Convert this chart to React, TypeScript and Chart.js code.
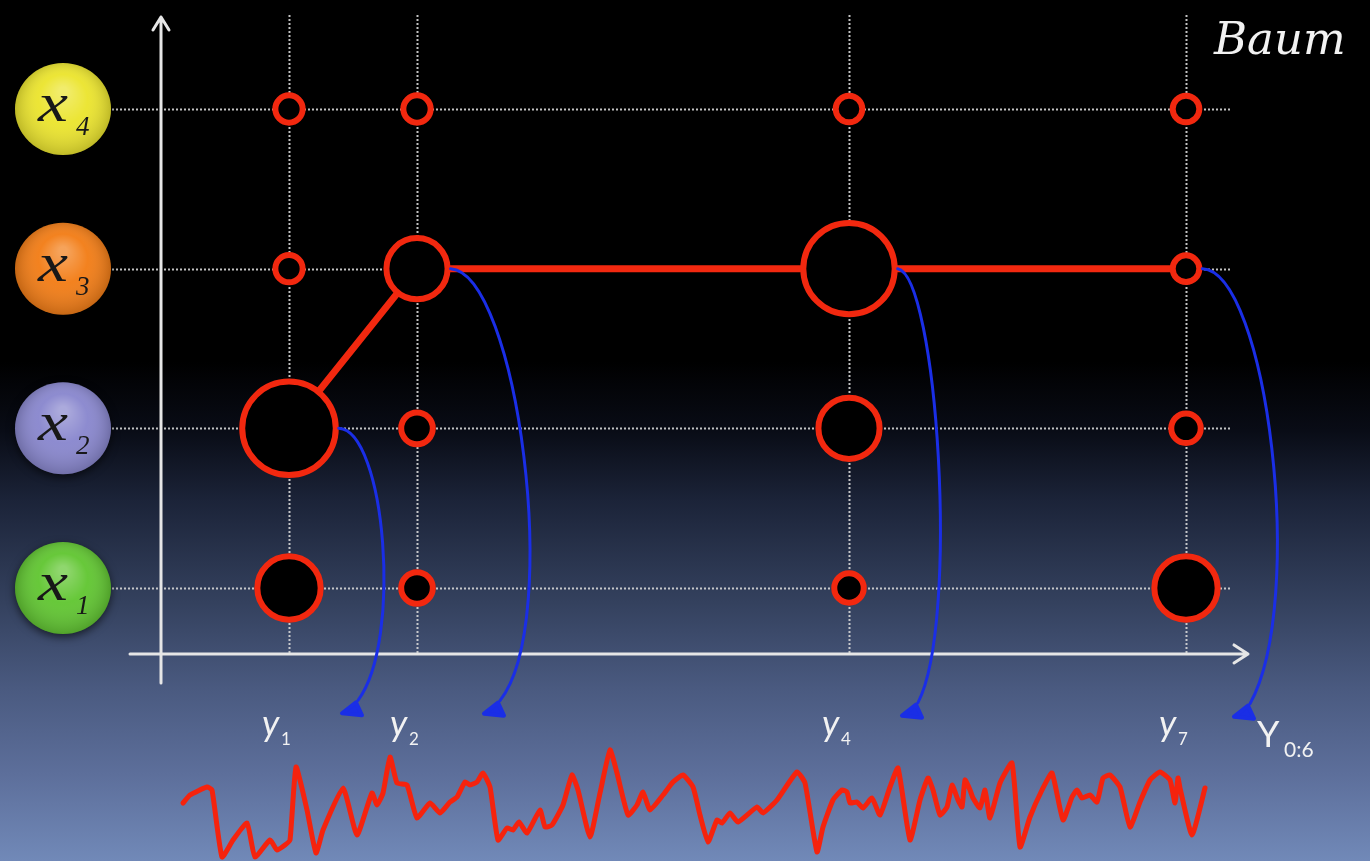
import React, { useEffect, useRef } from 'react';
import { Chart, registerables } from 'chart.js';
Chart.register(...registerables);

// ---- data ----
const stateSubs = ['1', '2', '3', '4'];
const stateColors = ['#5fc52f', '#8785cd', '#f27b13', '#ebe42b'];
const timeSubs = ['1', '2', '4', '7'];
const nodeTimes = [10.9, 23.7, 66.9, 100.6];
const beliefX1 = [0.56, 0.12, 0.09, 0.56];
const beliefX2 = [0.98, 0.12, 0.53, 0.09];
const beliefX3 = [0.06, 0.53, 0.95, 0.05];
const beliefX4 = [0.06, 0.06, 0.05, 0.05];
const viterbiPath = [2, 3, 3, 3];
const obsLabel = 'Y';
const obsSub = '0:6';
const title = 'Baum';

const signalT = [0.3, 1.0, 2.7, 3.2, 4.2, 5.3, 6.7, 7.5, 9.0, 9.7, 10.5, 11.0, 11.6, 12.7, 13.6, 14.3, 16.3, 17.7, 19.2, 19.7, 20.3, 21.0, 21.7, 22.7, 23.7, 25.0,
  26.0, 27.0, 27.7, 28.5, 29.0, 29.7, 30.3, 31.0, 31.8, 32.7, 33.3, 33.9, 34.7, 36.0, 36.5, 37.2, 38.3, 39.2, 39.8, 41.0, 42.0, 43.0, 43.7, 44.8, 45.7, 46.3, 47.0, 48.3, 49.3, 50.3, 51.3, 52.0,
  52.8, 53.7, 54.2, 55.0, 55.8, 57.7, 58.3, 59.7, 61.7, 62.5, 63.7, 64.3, 65.3, 66.2, 66.7, 67.0, 67.7, 68.3, 69.2, 70.0, 71.0, 71.8, 73.0, 74.0, 74.8, 75.3, 76.0, 76.7, 77.2,
  77.8, 78.2, 78.5, 79.0, 79.3, 80.0, 80.5, 81.0, 82.0, 83.2, 84.0, 85.0, 86.2, 87.2, 88.3, 89.2, 89.7, 90.2, 91.0, 91.7, 92.3, 93.0, 94.0, 95.0, 96.0, 97.0, 98.0, 99.0, 99.5, 99.8, 100.0, 101.2, 102.5];
const signalA = [0.7, 1.5, 2.3, 2.0, -4.7, -3.0, -1.3, -4.7, -3.0, -4.0, -3.5, -3.0, 4.3, 0.0, -4.3, -2.0, 2.2, -2.5, 1.7, 0.5, 1.7, 5.3, 2.7, 2.5, -0.8, 0.7,
  -0.3, 0.8, 1.3, 2.8, 2.5, 2.8, 3.7, 2.3, -3.0, -1.8, -2.0, -1.2, -2.3, 0.0, -1.7, -1.5, 0.5, 3.5, 2.0, -2.7, 1.7, 6.0, 3.7, -0.5, 0.5, 1.8, 0.0, 1.5, 2.8, 3.5, 2.3, -0.5,
  -3.2, -1.0, -1.3, -0.3, -1.2, 0.3, -0.3, 1.0, 3.8, 2.7, -4.2, -1.7, 1.0, 2.0, 1.8, 0.7, 0.8, 0.2, 1.2, -0.5, 2.3, 4.2, -3.0, 1.0, 3.2, 2.0, -0.5, 0.3, 2.5,
  1.0, 0.3, 3.0, 2.0, 1.2, 0.2, 2.0, -0.8, 2.7, 4.7, -3.7, -0.7, 2.0, 3.7, -1.0, 1.3, 2.0, 1.2, 1.5, 0.8, 3.2, 3.5, 2.3, -1.7, 0.8, 3.0, 3.8, 3.0, 0.7, 3.2, 2.2, -2.5, 2.2];

const beliefs = [beliefX1, beliefX2, beliefX3, beliefX4];

// ---- style constants ----
const W = 1370;
const H = 861;
const RED = '#f2280f';
const BORDER = 6;
const radiusOf = (b: number) => 11.5 + 36 * b;
// blue emission curve shapes (offsets relative to node centre)
const curveShapes = [
  { c1: [96, 2], c2: [114, 212], end: [69, 272] },
  { c1: [100, 4], c2: [146, 352], end: [83, 432] },
  { c1: [88, 7], c2: [111, 352], end: [69, 434] },
  { c1: [81, 2], c2: [121, 332], end: [64, 435] },
];

const App: React.FC = () => {
  const ref = useRef<HTMLCanvasElement | null>(null);

  useEffect(() => {
    document.body.style.margin = '0';
    document.body.style.overflow = 'hidden';
    const canvas = ref.current;
    if (!canvas) return;

    const bubbleData: { x: number; y: number; r: number }[] = [];
    beliefs.forEach((row, s) => {
      row.forEach((b, i) => bubbleData.push({ x: nodeTimes[i], y: s + 1, r: radiusOf(b) }));
    });

    const decor = {
      id: 'decor',
      beforeDraw(chart: any) {
        const ctx = chart.ctx as CanvasRenderingContext2D;
        const g = ctx.createLinearGradient(0, 0, 0, H);
        g.addColorStop(0, '#000000');
        g.addColorStop(0.42, '#000000');
        g.addColorStop(0.5, '#090c16');
        g.addColorStop(0.58, '#1b2338');
        g.addColorStop(0.7, '#34415e');
        g.addColorStop(0.8, '#4a5a80');
        g.addColorStop(0.9, '#5d6f9b');
        g.addColorStop(1, '#7189b8');
        ctx.save();
        ctx.fillStyle = g;
        ctx.fillRect(0, 0, W, H);
        ctx.restore();
      },
      beforeDatasetsDraw(chart: any) {
        const ctx = chart.ctx as CanvasRenderingContext2D;
        const xs = chart.scales.x;
        const ys = chart.scales.y;
        const axisX = xs.getPixelForValue(-1.9);
        const axisY = ys.getPixelForValue(0.587);
        ctx.save();
        // dotted grid
        ctx.strokeStyle = 'rgba(215,215,215,0.9)';
        ctx.lineWidth = 2;
        ctx.setLineDash([2, 2]);
        nodeTimes.forEach((t) => {
          const px = Math.round(xs.getPixelForValue(t)) + 0.5;
          ctx.beginPath();
          ctx.moveTo(px, 15);
          ctx.lineTo(px, axisY);
          ctx.stroke();
        });
        for (let s = 1; s <= 4; s++) {
          const py = Math.round(ys.getPixelForValue(s)) + 0.5;
          ctx.beginPath();
          ctx.moveTo(112, py);
          ctx.lineTo(1232, py);
          ctx.stroke();
        }
        ctx.setLineDash([]);
        // axes
        ctx.strokeStyle = '#e6e6e6';
        ctx.lineWidth = 3;
        ctx.lineCap = 'round';
        ctx.lineJoin = 'round';
        ctx.beginPath();
        ctx.moveTo(axisX, 683);
        ctx.lineTo(axisX, 17);
        ctx.moveTo(axisX - 8, 30);
        ctx.lineTo(axisX, 17);
        ctx.lineTo(axisX + 8, 30);
        ctx.moveTo(130, axisY);
        ctx.lineTo(1248, axisY);
        ctx.moveTo(1234, axisY - 9);
        ctx.lineTo(1248, axisY);
        ctx.lineTo(1234, axisY + 9);
        ctx.stroke();

        // state badges
        for (let s = 0; s < 4; s++) {
          const cy = ys.getPixelForValue(s + 1);
          const cx = 63;
          ctx.save();
          ctx.shadowColor = 'rgba(0,0,0,0.6)';
          ctx.shadowBlur = 8;
          ctx.shadowOffsetY = 3;
          const rg = ctx.createRadialGradient(cx, cy - 18, 4, cx, cy, 50);
          rg.addColorStop(0, 'rgba(255,255,255,0.3)');
          rg.addColorStop(0.45, 'rgba(255,255,255,0.05)');
          rg.addColorStop(1, 'rgba(0,0,0,0.22)');
          ctx.beginPath();
          ctx.ellipse(cx, cy, 48, 46, 0, 0, Math.PI * 2);
          ctx.fillStyle = stateColors[s];
          ctx.fill();
          ctx.shadowColor = 'transparent';
          ctx.fillStyle = rg;
          ctx.fill();
          ctx.restore();
          ctx.fillStyle = '#181818';
          ctx.textBaseline = 'alphabetic';
          ctx.textAlign = 'left';
          ctx.save();
          ctx.translate(38, cy + 12);
          ctx.scale(1.25, 1);
          ctx.font = 'italic 54px "Liberation Serif"';
          ctx.fillText('x', 0, 0);
          ctx.restore();
          ctx.font = 'italic 27px "Liberation Serif"';
          ctx.fillText(stateSubs[s], 76, cy + 26);
        }

        // time labels
        ctx.fillStyle = '#f2f2f2';
        nodeTimes.forEach((t, i) => {
          const px = xs.getPixelForValue(t);
          ctx.font = 'italic 36px Lato';
          ctx.fillText('y', px - 27, 736);
          ctx.font = '17px Lato';
          ctx.fillText(timeSubs[i], px - 8, 745);
        });
        ctx.font = '36px Lato';
        ctx.fillText(obsLabel, 1257, 747);
        ctx.font = '21px Lato';
        ctx.fillText(obsSub, 1284, 757);

        // title
        ctx.font = 'italic 45px "DejaVu Serif"';
        ctx.fillText(title, 1214, 54);
        ctx.restore();
      },
      afterDatasetsDraw(chart: any) {
        const ctx = chart.ctx as CanvasRenderingContext2D;
        const xs = chart.scales.x;
        const ys = chart.scales.y;
        ctx.save();
        ctx.strokeStyle = '#1a2ee6';
        ctx.fillStyle = '#1a2ee6';
        ctx.lineCap = 'round';
        ctx.lineJoin = 'round';
        viterbiPath.forEach((s, i) => {
          const cx = xs.getPixelForValue(nodeTimes[i]);
          const cy = ys.getPixelForValue(s);
          const R = radiusOf(beliefs[s - 1][i]) + BORDER / 2;
          const sh = curveShapes[i];
          const ex = cx + sh.end[0];
          const ey = cy + sh.end[1];
          ctx.lineWidth = 3;
          ctx.beginPath();
          ctx.moveTo(cx + R, cy);
          ctx.bezierCurveTo(cx + sh.c1[0], cy + sh.c1[1], cx + sh.c2[0], cy + sh.c2[1], ex, ey);
          ctx.stroke();
          ctx.lineWidth = 4;
          ctx.beginPath();
          ctx.moveTo(ex - 2, ey + 2);
          ctx.lineTo(ex - 16, ey + 13);
          ctx.lineTo(ex + 4, ey + 15);
          ctx.closePath();
          ctx.fill();
          ctx.stroke();
        });
        ctx.restore();
      },
    };

    const chart = new Chart(canvas, {
      type: 'bubble',
      data: {
        datasets: [
          {
            type: 'bubble',
            label: 'belief',
            data: bubbleData,
            backgroundColor: '#000000',
            borderColor: RED,
            borderWidth: BORDER,
            order: 0,
            yAxisID: 'y',
            clip: false,
          } as any,
          {
            type: 'line',
            label: 'path',
            data: nodeTimes.map((t, i) => ({ x: t, y: viterbiPath[i] })),
            borderColor: RED,
            borderWidth: 7,
            pointRadius: 0,
            tension: 0,
            order: 1,
            yAxisID: 'y',
            clip: false,
          } as any,
          {
            type: 'line',
            label: 'signal',
            data: signalT.map((t, i) => ({ x: t, y: signalA[i] })),
            borderColor: '#f5230d',
            borderWidth: 5,
            borderJoinStyle: 'round',
            borderCapStyle: 'round',
            pointRadius: 0,
            tension: 0.15,
            order: 2,
            yAxisID: 'ySig',
            clip: false,
          } as any,
        ],
      },
      options: {
        responsive: false,
        animation: false,
        devicePixelRatio: 1,
        events: [],
        layout: { padding: 0, autoPadding: false },
        plugins: { legend: { display: false }, tooltip: { enabled: false } },
        scales: {
          x: { type: 'linear', min: -18, max: 119, display: false },
          y: { type: 'linear', min: -0.7098, max: 4.6826, display: false },
          ySig: { type: 'linear', min: -5.1, max: 81, display: false },
        },
      } as any,
      plugins: [decor],
    });
    return () => chart.destroy();
  }, []);

  return (
    <div style={{ position: 'absolute', left: 0, top: 0, width: W, height: H }}>
      <canvas ref={ref} width={W} height={H} style={{ display: 'block' }} />
    </div>
  );
};

export default App;
